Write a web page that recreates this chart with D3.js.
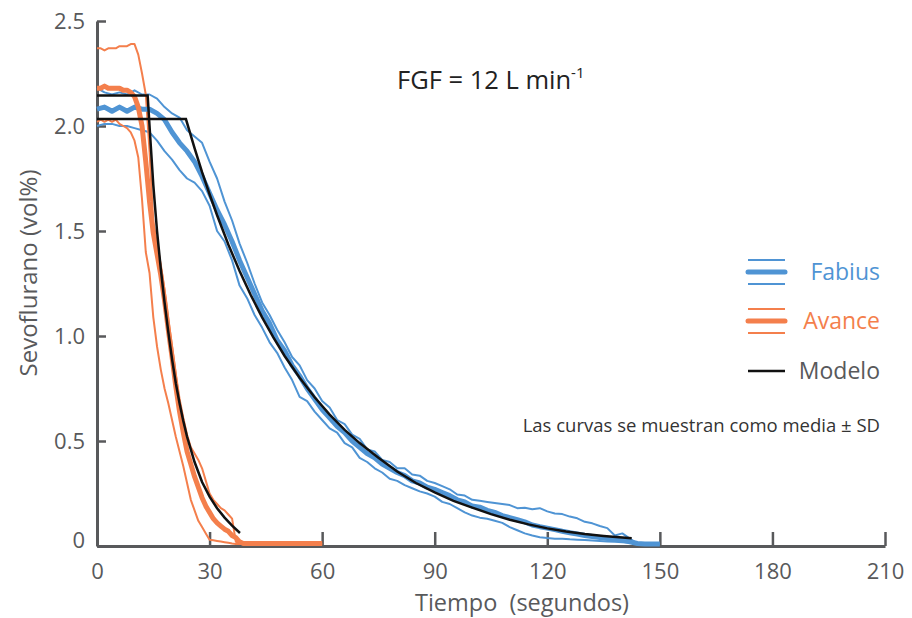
<!DOCTYPE html>
<html>
<head>
<meta charset="utf-8">
<script src="https://cdn.jsdelivr.net/npm/d3@7"></script>
<style>
body { margin: 0; background: #fff; }
text { font-family: "Open Sans", sans-serif; }
</style>
</head>
<body>
<script>
/* ---------- data ---------- */
var xTicks = [0, 30, 60, 90, 120, 150, 180, 210];
var yTicks = [0, 0.5, 1.0, 1.5, 2.0, 2.5];

// Fabius, every 2 s
var fabiusTime = [0,2,4,6,8,10,12,14,16,18,20,22,24,26,28,30,32,34,36,38,
	40,42,44,46,48,50,52,54,56,58,60,62,64,66,68,70,72,74,76,78,
	80,82,84,86,88,90,92,94,96,98,100,102,104,106,108,110,112,114,116,118,
	120,122,124,126,128,130,132,134,136,138,140,142,144,146,148,150];
var fabiusMean = [2.08,2.09,2.07,2.09,2.07,2.09,2.08,2.08,2.06,2.03,
	1.97,1.92,1.88,1.83,1.76,1.68,1.60,1.53,1.45,1.36,
	1.28,1.20,1.12,1.06,0.98,0.93,0.86,0.81,0.75,0.70,
	0.65,0.61,0.57,0.54,0.50,0.47,0.44,0.42,0.39,0.37,
	0.35,0.335,0.31,0.30,0.28,0.27,0.255,0.24,0.22,0.21,
	0.19,0.185,0.17,0.16,0.145,0.135,0.125,0.115,0.10,0.092,
	0.085,0.078,0.07,0.063,0.057,0.05,0.045,0.04,0.036,0.033,
	0.028,0.02,0.012,0.01,0.01,0.01];
var fabiusUpper = [2.18,2.16,2.15,2.16,2.15,2.17,2.15,2.15,2.13,2.09,
	2.06,2.04,1.98,1.95,1.92,1.83,1.75,1.64,1.55,1.44,
	1.35,1.25,1.16,1.10,1.03,0.97,0.90,0.86,0.79,0.75,
	0.69,0.66,0.60,0.58,0.53,0.51,0.46,0.45,0.41,0.40,
	0.37,0.37,0.34,0.335,0.31,0.30,0.285,0.27,0.245,0.24,
	0.22,0.215,0.21,0.205,0.20,0.195,0.18,0.182,0.175,0.18,
	0.165,0.155,0.152,0.14,0.132,0.115,0.108,0.095,0.085,0.05,
	0.06,0.035,0.012,0.01,0.01,0.01];
var fabiusLower = [2.00,2.01,2.01,2.00,2.00,1.99,1.98,1.97,1.93,1.88,
	1.84,1.79,1.75,1.73,1.69,1.62,1.50,1.45,1.36,1.24,
	1.18,1.10,1.04,0.97,0.92,0.85,0.79,0.71,0.69,0.64,
	0.60,0.56,0.54,0.49,0.47,0.42,0.40,0.37,0.35,0.32,
	0.31,0.29,0.275,0.26,0.25,0.235,0.21,0.20,0.18,0.16,
	0.145,0.135,0.13,0.12,0.11,0.09,0.075,0.06,0.05,0.042,
	0.038,0.035,0.035,0.032,0.03,0.028,0.026,0.024,0.022,0.02,
	0.018,0.015,0.012,0.01,0.01,0.01];

// Avance, every 1 s then flat
var avanceTime = [0,1,2,3,4,5,6,7,8,9,10,11,12,13,14,15,16,17,18,19,
	20,21,22,23,24,25,26,27,28,29,30,31,32,33,34,35,36,37,38,39,
	40,45,50,55,60];
var avanceMean = [2.18,2.18,2.19,2.18,2.18,2.18,2.18,2.17,2.17,2.16,
	2.14,2.09,2.00,1.83,1.64,1.49,1.39,1.29,1.17,1.03,
	0.90,0.76,0.64,0.54,0.45,0.39,0.33,0.28,0.23,0.19,
	0.16,0.13,0.11,0.095,0.08,0.07,0.05,0.04,0.02,0.012,
	0.012,0.012,0.012,0.012,0.012];
var avanceUpper = [2.37,2.37,2.36,2.37,2.37,2.37,2.38,2.38,2.38,2.39,
	2.39,2.34,2.25,2.15,1.88,1.54,1.44,1.34,1.22,1.08,
	0.95,0.82,0.70,0.61,0.53,0.47,0.44,0.41,0.37,0.31,
	0.25,0.22,0.20,0.18,0.17,0.15,0.13,0.02,0.015,0.012,
	0.012,0.012,0.012,0.012,0.012];
var avanceLower = [2.02,2.03,2.02,2.03,2.02,2.03,2.01,2.00,1.99,1.97,
	1.93,1.85,1.65,1.40,1.30,1.09,0.95,0.84,0.75,0.68,
	0.60,0.52,0.45,0.38,0.30,0.22,0.17,0.12,0.09,0.06,
	0.03,0.027,0.024,0.021,0.018,0.015,0.012,0.01,0.01,0.01,
	0.01,0.01,0.01,0.01,0.01];

// model curves
var modelFabiusTime = [0,23.7,26,28,30,32,35,38,41,44,47,50,54,58,62,66,70,75,80,85,90,95,100,105,110,115,120,125,130,135,142.5];
var modelFabiusValue = [2.033,2.033,1.895,1.78,1.675,1.575,1.436,1.309,1.194,1.089,0.993,0.905,0.801,0.708,0.626,0.553,0.49,0.42,0.355,0.30,0.255,0.215,0.183,0.152,0.125,0.103,0.084,0.069,0.057,0.048,0.037];
var modelAvanceTime = [0,13.5,14,15,16,17,18,19,20,21,22,23,24,26,28,30,32,34,36,38.1];
var modelAvanceValue = [2.145,2.145,2.0,1.72,1.50,1.32,1.16,1.02,0.89,0.775,0.68,0.595,0.52,0.40,0.305,0.235,0.18,0.135,0.097,0.062];

/* ---------- chart ---------- */
var w = 912, h = 618;
var blue = "#4f94d4", orange = "#f47f4c", grey = "#58595b";

var svg = d3.select("body").append("svg")
	.attr("width", w)
	.attr("height", h);

var x = d3.scaleLinear().domain([0, 210]).range([97, 885]);
var y = d3.scaleLinear().domain([0, 2.5]).range([546, 21]);

function pairs(ts, vs) {
	return ts.map(function(t, i) { return [t, vs[i]]; });
}

var line = d3.line()
	.x(function(d) { return x(d[0]); })
	.y(function(d) { return y(d[1]); });

// axes (ticks point inwards)
var xAxis = svg.append("g")
	.attr("transform", "translate(0," + y(0) + ")")
	.call(d3.axisBottom(x).tickValues(xTicks).tickSizeInner(-14).tickSizeOuter(0).tickPadding(17));
var yAxis = svg.append("g")
	.attr("transform", "translate(" + x(0) + ",0)")
	.call(d3.axisLeft(y).tickValues(yTicks).tickSizeInner(-9).tickSizeOuter(0).tickPadding(12)
		.tickFormat(function(d) { return d === 0 ? "0" : d3.format(".1f")(d); }));

[xAxis, yAxis].forEach(function(g) {
	g.select(".domain").attr("stroke", grey).attr("stroke-width", 3);
	g.selectAll(".tick line").attr("stroke", grey).attr("stroke-width", 2.5);
	g.selectAll(".tick text")
		.attr("fill", grey)
		.attr("font-size", 22)
		.attr("font-family", "'Open Sans', sans-serif");
});
yAxis.selectAll(".tick text").filter(function(d) { return d === 0; }).attr("dy", "0.05em");

// SD lines, thin
var sdLines = [
	{ t: fabiusTime, v: fabiusUpper, c: blue },
	{ t: fabiusTime, v: fabiusLower, c: blue },
	{ t: avanceTime, v: avanceUpper, c: orange },
	{ t: avanceTime, v: avanceLower, c: orange }
];
svg.selectAll("path.sd")
	.data(sdLines)
	.enter()
	.append("path")
	.attr("class", "sd")
	.attr("d", function(d) { return line(pairs(d.t, d.v)); })
	.attr("fill", "none")
	.attr("stroke", function(d) { return d.c; })
	.attr("stroke-width", 2)
	.attr("stroke-linejoin", "round");

// means, thick
var meanLines = [
	{ t: fabiusTime, v: fabiusMean, c: blue },
	{ t: avanceTime, v: avanceMean, c: orange }
];
svg.selectAll("path.mean")
	.data(meanLines)
	.enter()
	.append("path")
	.attr("class", "mean")
	.attr("d", function(d) { return line(pairs(d.t, d.v)); })
	.attr("fill", "none")
	.attr("stroke", function(d) { return d.c; })
	.attr("stroke-width", 5)
	.attr("stroke-linejoin", "round");

// model
svg.selectAll("path.model")
	.data([pairs(modelFabiusTime, modelFabiusValue), pairs(modelAvanceTime, modelAvanceValue)])
	.enter()
	.append("path")
	.attr("class", "model")
	.attr("d", line)
	.attr("fill", "none")
	.attr("stroke", "#111")
	.attr("stroke-width", 2.5);

// axis titles
svg.append("text")
	.attr("x", 522).attr("y", 611)
	.attr("text-anchor", "middle")
	.attr("font-size", 23.5)
	.attr("fill", grey)
	.attr("xml:space", "preserve")
	.text("Tiempo  (segundos)");

svg.append("text")
	.attr("transform", "translate(37,273) rotate(-90)")
	.attr("text-anchor", "middle")
	.attr("font-size", 24)
	.attr("fill", grey)
	.text("Sevoflurano (vol%)");

// FGF label
var fgf = svg.append("text")
	.attr("x", 397).attr("y", 89)
	.attr("font-size", 25.5)
	.attr("fill", "#222");
fgf.append("tspan").text("FGF = 12 L min");
fgf.append("tspan").attr("dy", -11).attr("font-size", 15).text("-1");

// legend
var legend = [
	{ name: "Fabius", c: blue, y: 272, band: true },
	{ name: "Avance", c: orange, y: 321, band: true },
	{ name: "Modelo", c: "#111", y: 371, band: false }
];
var lg = svg.selectAll("g.legend")
	.data(legend)
	.enter()
	.append("g")
	.attr("class", "legend")
	.attr("transform", function(d) { return "translate(0," + d.y + ")"; });

lg.filter(function(d) { return d.band; })
	.selectAll("line.sd")
	.data(function(d) { return [{ c: d.c, o: -12 }, { c: d.c, o: 12 }]; })
	.enter()
	.append("line")
	.attr("x1", 748).attr("x2", 785)
	.attr("y1", function(d) { return d.o; })
	.attr("y2", function(d) { return d.o; })
	.attr("stroke", function(d) { return d.c; })
	.attr("stroke-width", 2);

lg.append("line")
	.attr("x1", 748).attr("x2", 785)
	.attr("y1", 0).attr("y2", 0)
	.attr("stroke", function(d) { return d.c; })
	.attr("stroke-width", function(d) { return d.band ? 5 : 2.5; })
	.attr("stroke-linecap", function(d) { return d.band ? "round" : "butt"; });

lg.append("text")
	.attr("x", 880)
	.attr("dy", "0.35em")
	.attr("text-anchor", "end")
	.attr("font-size", 23)
	.attr("fill", function(d) { return d.band ? d.c : grey; })
	.text(function(d) { return d.name; });

svg.append("text")
	.attr("x", 880).attr("y", 432)
	.attr("text-anchor", "end")
	.attr("font-size", 18.5)
	.attr("fill", "#333")
	.text("Las curvas se muestran como media \u00b1 SD");
</script>
</body>
</html>
